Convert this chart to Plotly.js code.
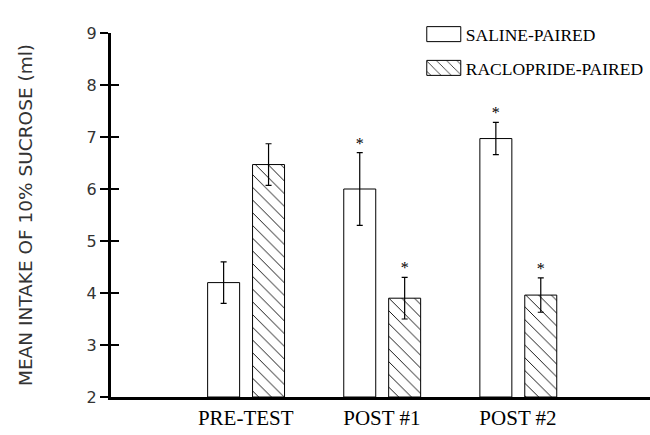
<!DOCTYPE html>
<html>
<head>
<meta charset="utf-8">
<script src="https://cdn.plot.ly/plotly-3.0.1.min.js"></script>
<style>html,body{margin:0;padding:0;background:#fff;}#chart{width:650px;height:435px;}</style>
</head>
<body>
<div id="chart"></div>
<script>
// Data
const categories = ["PRE-TEST", "POST #1", "POST #2"];
const salineMean = [4.2, 6.0, 6.97];
const salineSEM = [0.4, 0.7, 0.31];
const salineSig = [false, true, true];
const raclopMean = [6.47, 3.9, 3.96];
const raclopSEM = [0.4, 0.4, 0.33];
const raclopSig = [false, true, true];
const seriesNames = ["SALINE-PAIRED", "RACLOPRIDE-PAIRED"];
const yTicks = [2, 3, 4, 5, 6, 7, 8, 9];
const yBase = 2;

// Layout styling
const idx = categories.map((c, i) => i);
const barW = 0.235;
const offS = -0.28, offR = 0.05;

function starTrace(mean, sem, sig, off) {
  const xs = [], ys = [];
  idx.forEach(i => { if (sig[i]) { xs.push(i + off + barW / 2); ys.push(mean[i] + sem[i]); } });
  return {
    type: 'scatter', mode: 'text', x: xs, y: ys, text: xs.map(() => '*'), yaxis: 'y2',
    textposition: 'top center', textfont: {family: 'Liberation Serif', size: 16, color: '#000'},
    showlegend: false, hoverinfo: 'skip', cliponaxis: false
  };
}

const traces = [
  {
    type: 'bar', name: seriesNames[0], x: idx, y: salineMean.map(v => v - yBase), base: yBase,
    width: barW, offset: offS, legendgroup: 'a',
    marker: {color: '#fff', line: {color: '#000', width: 1}},
    error_y: {type: 'data', array: salineSEM, visible: true, color: '#000', thickness: 1.2, width: 3}
  },
  {
    type: 'bar', name: seriesNames[1], x: idx, y: raclopMean.map(v => v - yBase), base: yBase,
    width: barW, offset: offR, legendgroup: 'b',
    marker: {color: '#fff', line: {color: '#000', width: 1},
      pattern: {shape: '\\', fgcolor: '#000', bgcolor: '#fff', size: 9, solidity: 0.1}},
    error_y: {type: 'data', array: raclopSEM, visible: true, color: '#000', thickness: 1.2, width: 3}
  },
  starTrace(salineMean, salineSEM, salineSig, offS),
  starTrace(raclopMean, raclopSEM, raclopSig, offR)
];

const layout = {
  width: 650, height: 435,
  margin: {l: 111, r: 0, t: 33, b: 38, autoexpand: false},
  paper_bgcolor: '#fff', plot_bgcolor: '#fff',
  showlegend: true,
  legend: {
    x: 0.584, y: 1.046, xanchor: 'left', yanchor: 'top',
    font: {family: 'Liberation Serif', size: 17.5, color: '#000'},
    traceorder: 'grouped', tracegroupgap: 8, itemwidth: 30,
    bgcolor: 'rgba(0,0,0,0)'
  },
  xaxis: {
    range: [-0.99, 2.97], tickvals: idx, ticktext: categories,
    showline: true, linecolor: '#000', linewidth: 3, ticks: '', showgrid: false, zeroline: false,
    tickfont: {family: 'Liberation Serif', size: 21, color: '#000'}
  },
  yaxis: {
    range: [2, 9], tickvals: yTicks, showline: true, linecolor: '#000', linewidth: 3,
    ticks: 'outside', ticklen: 8, tickwidth: 2, tickcolor: '#000',
    showgrid: false, zeroline: false,
    tickfont: {family: 'DejaVu Sans', size: 16, color: '#333'},
    title: {text: 'MEAN INTAKE OF 10% SUCROSE (ml)', font: {family: 'DejaVu Sans', size: 18.5, color: '#333'}, standoff: 50}
  },
  yaxis2: {
    range: [2, 9], tickvals: yTicks, overlaying: 'y', side: 'left', anchor: 'x', showticklabels: false,
    ticks: 'inside', ticklen: 8, tickwidth: 2, tickcolor: '#000', showgrid: false, zeroline: false
  }
};

Plotly.newPlot('chart', traces, layout, {staticPlot: true}).then(gd => {
  // widen legend swatches to match the original figure's wide boxes
  gd.querySelectorAll('.legend .legendpoints path').forEach(p => {
    p.setAttribute('d', 'M17,7.5H-17V-7.5H17Z');
    p.setAttribute('transform', 'translate(18,0)');
  });
});
</script>
</body>
</html>
